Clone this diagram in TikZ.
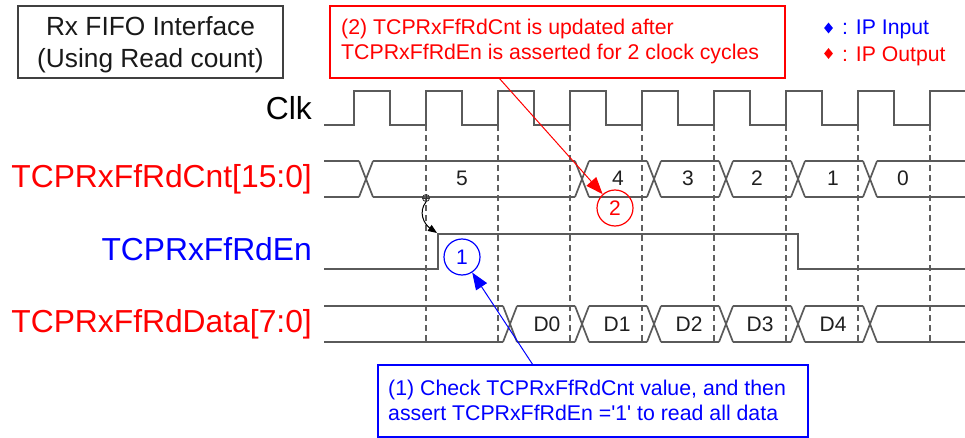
\documentclass[tikz,border=0pt]{standalone}
\usepackage{fontspec}
\newfontfamily\arial{Liberation Sans}
\usetikzlibrary{arrows.meta,shapes.geometric}
\definecolor{wavec}{HTML}{5A5A5A}
\definecolor{gridc}{HTML}{606060}
\definecolor{myred}{HTML}{FF0000}
\definecolor{myblue}{HTML}{0000FF}
\definecolor{boxc}{HTML}{404040}
\begin{document}
\begin{tikzpicture}[x=1pt,y=-1pt,
  wave/.style={draw=wavec, line width=1.7pt, line cap=butt},
  gridline/.style={draw=gridc, line width=1.4pt, dash pattern=on 6pt off 4pt},
  siglabel/.style={anchor=base east, inner sep=0, font=\arial\fontsize{31.8}{37}\selectfont},
  val/.style={anchor=base, inner sep=0, text=black!88, font=\arial\fontsize{21}{25}\selectfont},
  callbox/.style={draw, line width=1.2pt, minimum width=#1, minimum height=72pt, inner sep=0},
  calltext/.style={anchor=west, inner sep=0, align=left, font=\arial\fontsize{21.3}{25}\selectfont},
  numcirc/.style={circle, draw, line width=1.2pt, minimum size=36pt, inner sep=0, font=\arial\fontsize{21}{25}\selectfont},
  legdia/.style={diamond, fill, inner sep=0, minimum width=9pt, minimum height=11pt},
  legtext/.style={anchor=base west, inner sep=0, font=\arial\fontsize{21.2}{25}\selectfont},
  tip/.style={-{Triangle[length=17pt,width=13pt]}, line width=1pt}
]
\useasboundingbox (0,0) rectangle (965,438);

% title box
\node[callbox=265pt, draw=boxc, line width=1.3pt] (titlebox) at (150.5,42) {};
\node[inner sep=0, align=center, text=black!90, font=\arial\fontsize{26.3}{32}\selectfont] (title) at (150.5,44.6) {Rx FIFO Interface\\(Using Read count)};

% red callout
\node[callbox=455pt, draw=myred] (redbox) at (557.5,42) {};
\node[calltext, text=myred] (redtext) at (341,41.7) {(2) TCPRxFfRdCnt is updated after\\TCPRxFfRdEn is asserted for 2 clock cycles};

% legend
\node[legdia, fill=myblue] (dia1) at (828.5,28) {};
\node[legdia, fill=myred] (dia2) at (828.5,53.5) {};
\node[legtext, text=myblue] (leg1) at (842,35) {: IP Input};
\node[legtext, text=myred] (leg2) at (842,62) {: IP Output};

% signal labels
\node[siglabel, text=black] (lclk) at (312,120) {Clk};
\node[siglabel, text=myred] (lcnt) at (312,188) {TCPRxFfRdCnt[15:0]};
\node[siglabel, text=myblue] (len) at (312,260) {TCPRxFfRdEn};
\node[siglabel, text=myred] (ldata) at (312,332) {TCPRxFfRdData[7:0]};

% dashed grid
\foreach \x in {426,498,570,642,714,786,858,930}
  \draw[gridline] (\x,125) -- (\x,342);

% clock
\draw[wave] (324,125)
  \foreach \k in {0,...,7} { -- ({354+72*\k},125) -- ({354+72*\k},91) -- ({390+72*\k},91) -- ({390+72*\k},125) }
  -- (930,125) -- (930,91) -- (965,91);

% TCPRxFfRdCnt bus
\foreach \a/\b in {324/359,373/575,589/647,661/719,733/791,805/863,877/965}
  \draw[wave] (\a,161) -- (\b,161) (\a,197) -- (\b,197);
\foreach \c in {366,582,654,726,798,870}
  \draw[wave] (\c-7,161) -- (\c+7,197) (\c-7,197) -- (\c+7,161);
\node[val] (v5) at (462,186) {5};
\node[val] (v4) at (618,186) {4};
\node[val] (v3) at (688,186) {3};
\node[val] (v2) at (757,186) {2};
\node[val] (v1) at (833,186) {1};
\node[val] (v0) at (903,186) {0};

% TCPRxFfRdEn
\draw[wave] (324,269) -- (438,269) -- (438,234) -- (798,234) -- (798,269) -- (965,269);

% TCPRxFfRdData bus
\foreach \a/\b in {324/503,517/575,589/647,661/719,733/791,805/863,877/965}
  \draw[wave] (\a,306) -- (\b,306) (\a,342) -- (\b,342);
\foreach \c in {510,582,654,726,798,870}
  \draw[wave] (\c-7,306) -- (\c+7,342) (\c-7,342) -- (\c+7,306);
\node[val] (d0) at (547,331) {D0};
\node[val] (d1) at (617,331) {D1};
\node[val] (d2) at (689,331) {D2};
\node[val] (d3) at (760,331) {D3};
\node[val] (d4) at (833,331) {D4};

% marker and curved arrow
\node[circle, draw=black!80, line width=0.8pt, minimum size=7pt, inner sep=0] (mk) at (426,198) {};
\draw[black!80, line width=0.7pt] (mk.north) -- (mk.south) (mk.west) -- (mk.east);
\coordinate (enrise) at (437,233);
\draw[-{Triangle[length=9pt,width=7pt]}, line width=1pt, black] (mk.south) .. controls (418,212) and (424,224) .. (enrise);

% numbered circles
\node[numcirc, draw=myblue, text=myblue] (c1) at (462,257) {1};
\node[numcirc, draw=myred, text=myred] (c2) at (615,208) {2};

% blue callout
\node[callbox=430pt, draw=myblue] (bluebox) at (593,401) {};
\node[calltext, text=myblue] (bluetext) at (388,400) {(1) Check TCPRxFfRdCnt value, and then\\assert TCPRxFfRdEn ='1' to read all data};

% callout arrows
\coordinate (redstart) at (499,78);
\coordinate (bluestart) at (533,365);
\draw[tip, myred] (redstart) -- (c2);
\draw[tip, myblue] (bluestart) -- (c1);
\end{tikzpicture}
\end{document}
